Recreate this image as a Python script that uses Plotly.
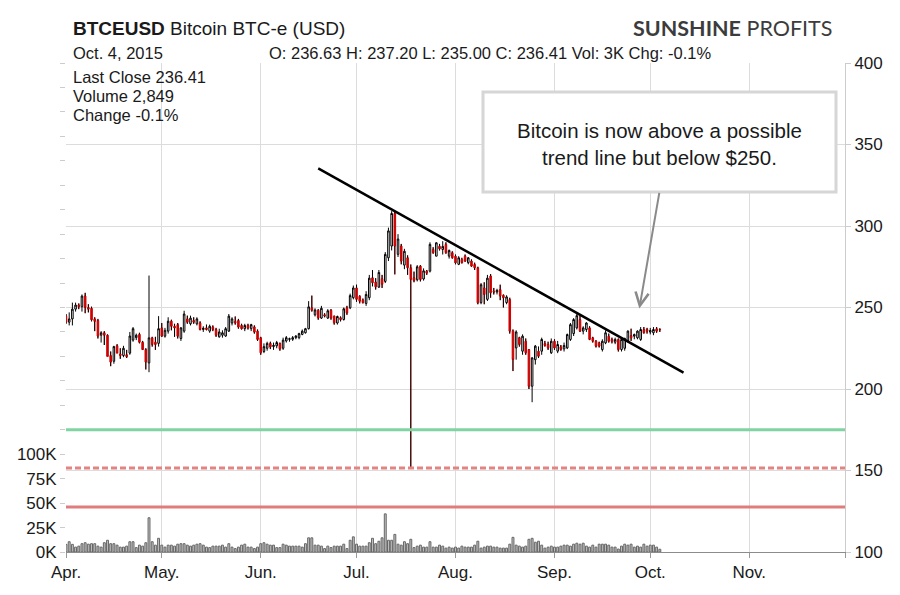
import plotly.graph_objects as go
import pandas as pd

# ---------------- data ----------------
start_date = "2015-04-01"

open_apr = [244.7,241,243,249,251.5,250.5,257,250,249.5,243,242,233,234.5,233,220.5,217,226.5,221.5,220.5,221,222,230,231.5,233.5,228.7,224.2,216,231.4,228.7,228]
high_apr = [246,247,253,253,252.5,258,259,252,250.5,244,243,235.5,235.5,233.5,223,226.5,227.5,225,226.5,224,235,238,234,234.5,229.5,225,269.6,232,232,244.7]
low_apr = [240,239,239,247.5,249,247.5,246.5,247,241.5,235.5,231,228.5,227,220,214,215.5,222,218.5,219.5,219,221,229,230,228,224,212,210.3,226,224,226]
close_apr = [241,243,249,251.5,250.5,257,250,249,242.5,241.5,232.5,234.5,233,220,216.5,226,222,220.5,225,219.8,232.5,237,233,228.7,224.2,216.5,231.4,227.3,227.3,237]

open_may = [237.5,232.4,235.5,241.6,238.5,239.5,231,235.5,243,240,242,240,240.5,236.5,237.5,235.5,238,236.5,232,233,232.5,235.5,240.5,241.5,242,239,237,239,237,238.1,235.5]
high_may = [240.5,237.5,244,242.5,240,240.5,238,248,245,245,244,244,241.5,238.5,239.5,239.5,239,237.5,237,236,238,246,244,244.5,243,240,240,240,240,239,236.5]
low_may = [232,231.5,234,236,232,231,229.5,234.5,240,239,240,239,236,235,236,234.5,235.5,232,231.5,231.5,232,235,239,239.5,237,236.5,235.5,236.5,235.5,234,229.5]
close_may = [232.4,236,241.6,238.5,237.5,232.4,237.5,246,241,243.5,241,243,236.5,237.3,236.5,238.5,236.5,233,235,234.5,237,244.7,243,240.5,238,237,239,237.5,239.5,234.9,230.4]

open_jun = [231.4,223,225,228,226,226.5,227.9,225,229.5,230.5,230.5,231.5,231.5,233.5,234.5,237,249.8,245.5,248.3,243.5,245.5,243.5,248.3,244.7,240.5,243.7,242.6,249.8,249.8,256]
high_jun = [232,228,229,229,228.5,229.5,228.5,231.5,232.5,231.5,232.5,233,234.5,236.5,237.5,253.9,257.3,249.5,249,251,246.5,249,249,245,245,244.5,250,251,258.5,263.5]
low_jun = [221,222,223.5,224.5,224,225,223.5,224,228.5,229,229.5,230.5,230.5,233,234,236.5,247.5,244.5,242.5,243,244,243,242.5,239.5,239.5,241.5,242,245.5,249,255]
close_jun = [222.2,226,228,225.8,226.8,228.5,224.6,230,231.5,230.8,231.5,232.5,234,235.5,237,250.4,248.3,248.5,243.6,249.5,244.8,248,243.6,240.6,244.5,242.6,249.2,246.7,257.3,262]

open_jul = [262,256.9,254.5,252.5,256,268.2,265.6,262.5,267.6,266,280.5,287.7,307.7,282.6,287.7,276,280.5,274.4,268.2,267,275.4,267.5,272.3,272.3,285.6,281.5,287.6,285.6,288.7,281.5,283.6]
high_jul = [264,257.5,255.5,260,270,273,268,273,270,284,299,309.1,309,295,289,286,282,276.4,272,276,276,274,273,290,287,290,289,290.7,290,285.6,284.5]
low_jul = [253.5,252.5,252.5,251,254.5,263,261,262,262,265,278.5,285,270.3,281,276.5,273.5,270,151.5,265.5,266,266,266.5,270,271.5,283,281.5,285,282.5,283,280,280]
close_jul = [255,253.9,253,258,268,265.2,262.7,271.5,264.2,282.6,297,307.7,287.7,292,278.5,284.5,274.4,267.2,266.6,275,267.2,272.5,271.1,288.7,283.6,289.7,286,287.5,283.6,285,280.5]

open_aug = [281.5,276.5,279.5,281.5,277.5,278.5,276.4,274.4,253,262,255,269.3,260,259.5,261,257.5,253,254.9,235.5,225.2,231.5,223.2,229.3,224.2,201.7,218,223.2,223.2,227.9,227.3,222.2]
high_aug = [282.5,281.5,280.5,282.5,281,279.5,277.5,275,265,265.5,270,270.5,262,261.5,264,258,257.5,256,236.5,236,232,233.5,231,224.5,219.5,227,226,231.5,229.5,229,231]
low_aug = [276.5,276,277,278,276.5,275,273,252,252,252,254,256,258,258,254.5,250,252,234,211,218,226,221,221,200,191.9,215,219,221,226,224,221.5]
close_aug = [277.4,280.5,277.5,278.5,280.5,275.4,274.4,252.9,264,258,268,259,259.5,260.5,257,256,256.5,235.5,218.1,235,227.3,232.4,222.2,201.7,219.1,226.3,220.1,230.4,226.7,225.2,229.3]

open_sep = [229.3,223.2,225.8,224.6,225.2,230.4,234,237.5,242.6,235.5,236.5,237.5,231.4,229.3,228.3,224.2,228.3,232.4,230.4,228.7,230.4,224.2,225,229.3,232.8,232.4,231.4,230.4,236.5,236.5]
high_sep = [230.5,229.5,227,228.5,234,240.5,243.5,246.5,245,238.5,241,238.5,232,230,229,230.5,236,234,231.5,231.5,231,231,231.5,236,237,234,236,238,238,237.5]
low_sep = [224,222,223.5,223,224.5,229.5,232.5,236.5,235,233.5,235,230,228.5,225.5,225.5,223,227.5,228.5,228,227.5,223,223,223.5,228.5,229.5,230.5,230.5,229.5,234,234]
close_sep = [225.2,227.3,224.2,226.7,233.4,239.5,242.6,245,235.5,237.5,240.5,230.4,229.3,226.3,226.3,229.3,234.5,229.3,229.3,230.4,224.2,230.4,231,235.5,231.4,233.4,235.5,236.5,234.5,235.5]

open_oct = [234.9,234.5,236.9,236.63]
high_oct = [237.5,238,238,237.2]
low_oct = [233.5,233,234.5,235.0]
close_oct = [235.9,236.5,235.5,236.41]

# volume in thousands
vol_apr = [7.8,10.5,7.8,5,6,8.5,9.5,8,8.5,8.5,6,5,9.5,12,8.5,8.5,7,5,5,6,10.5,10.5,4.5,7,6,9.5,35,10.5,7,14]
vol_may = [7,5,7,7,6,8,8.5,8.5,7,6,7,8,8.5,7,5,4.5,6,6,6,7,5,8.5,5,3.5,5,7,8,5,5,3.5,5]
vol_jun = [8.5,9.5,8,7,7,4.5,4.5,8,7,6,6,6,6,5,8.5,14.5,14.5,7,7,6,3.5,6,4.5,6,6,6,8,3.5,12,15.5]
vol_jul = [8,6,6,6,9.5,14,8.5,11,14.5,39,12,12,18,8,7,10.5,8.5,13,4.5,6,7,5,5,10.5,5,5,7,6,4,5,4]
vol_aug = [5,4,6,5,5,5,7,11,4,5,6,6,5,5,4,4,4,8,15,7,6,5,6,13,14,10,11,7,4,5,6]
vol_sep = [5,5,6,7,7,6,8,9,8,9,6,5,7,5,8,8,8,7,5,5,3,6,8,7,8,5,6,5,8,6]
vol_oct = [7,7,5,2.8]

trend_x = ["2015-06-19 00:00", "2015-10-11 10:00"]
trend_y = [335.3, 210.1]

level_values = [175.0, 151.5, 127.6]
level_colors = ["#80d4a2", "#e38484", "#e07c7c"]
level_dashes = ["solid", "6px,3px", "solid"]

arrow_head = ("2015-09-27 14:00", 249.4)
arrow_tail = ("2015-10-03 22:00", 321.2)

month_ticks = ["2015-04-01", "2015-05-01", "2015-06-01", "2015-07-01", "2015-08-01",
               "2015-09-01", "2015-10-01", "2015-11-01", "2015-12-01"]
month_labels = ["Apr.", "May.", "Jun.", "Jul.", "Aug.", "Sep.", "Oct.", "Nov.", ""]
price_ticks = [100, 150, 200, 250, 300, 350, 400]
vol_ticks = list(range(0, 501, 25))
vol_labels = [f"{v}K" if v <= 100 else "" for v in vol_ticks]

# ---------------- assemble ----------------
opens = open_apr + open_may + open_jun + open_jul + open_aug + open_sep + open_oct
highs = high_apr + high_may + high_jun + high_jul + high_aug + high_sep + high_oct
lows = low_apr + low_may + low_jun + low_jul + low_aug + low_sep + low_oct
closes = close_apr + close_may + close_jun + close_jul + close_aug + close_sep + close_oct
vols = vol_apr + vol_may + vol_jun + vol_jul + vol_aug + vol_sep + vol_oct
n = len(closes)
assert len(opens) == n == len(highs) == len(lows) == len(vols)
dates = pd.date_range(start_date, periods=n, freq="D")

FONT = "Liberation Sans, Arial, sans-serif"
TXT = "#1a1a1a"

fig = go.Figure()

fig.add_trace(go.Bar(
    x=dates, y=vols, yaxis="y2", width=0.6 * 86400000,
    marker=dict(color="#c4c4c4", line=dict(color="#666666", width=1)),
    hoverinfo="skip"))

fig.add_trace(go.Candlestick(
    x=dates, open=opens, high=highs, low=lows, close=closes,
    increasing=dict(line=dict(color="#000000", width=1), fillcolor="#ffffff"),
    decreasing=dict(line=dict(color="#cc0000", width=1), fillcolor="#cc0000"),
    whiskerwidth=0))

# black wicks for down candles
wx, wy = [], []
for d, o, h, l, c in zip(dates, opens, highs, lows, closes):
    if c < o:
        wx += [d, d, None, d, d, None]
        wy += [h, o, None, c, l, None]
fig.add_trace(go.Scatter(x=wx, y=wy, mode="lines", line=dict(color="#000000", width=1),
                         hoverinfo="skip"))

fig.add_trace(go.Scatter(x=trend_x, y=trend_y, mode="lines",
                         line=dict(color="#000000", width=2.5), hoverinfo="skip"))

shapes = []
for v, col, dsh in zip(level_values, level_colors, level_dashes):
    shapes.append(dict(type="line", xref="paper", x0=0, x1=1, yref="y", y0=v, y1=v,
                       line=dict(color=col, width=3, dash=dsh), layer="above"))


def px(x):
    return (x - 66) / 779


def py(y):
    return (552 - y) / 489


shapes.append(dict(type="rect", xref="paper", yref="paper",
                   x0=px(483), x1=px(836), y0=py(192), y1=py(92),
                   line=dict(color="#d6d6d6", width=3), fillcolor="#ffffff", layer="above"))

ann = []


def txt(x, y, s, size=15, anchor="left", **kw):
    ann.append(dict(x=px(x), y=py(y), xref="paper", yref="paper", text=s, showarrow=False,
                    xanchor=anchor, yanchor="middle",
                    font=dict(family=kw.get("family", FONT), size=size, color=kw.get("color", TXT))))


txt(71, 28, "<b>BTCEUSD</b> Bitcoin BTC-e (USD)", 19)
txt(71, 53, "Oct. 4, 2015", 16.5)
txt(267, 53, "O: 236.63 H: 237.20 L: 235.00 C: 236.41 Vol: 3K Chg: -0.1%", 16.5)
txt(71, 77, "Last Close 236.41", 16.5)
txt(71, 96, "Volume 2,849", 16.5)
txt(71, 115, "Change -0.1%", 16.5)
txt(834, 28, "<b>SUNSHINE</b> PROFITS", 21.5, anchor="right", family="Lato, Open Sans, sans-serif",
    color="#3c3c3c")
txt(659.5, 144, "Bitcoin is now above a possible<br>trend line but below $250.", 20.5, anchor="center")
ann[-1]["align"] = "center"

ann.append(dict(x=arrow_head[0], y=arrow_head[1], xref="x", yref="y",
                ax=arrow_tail[0], ay=arrow_tail[1], axref="x", ayref="y",
                text="", showarrow=True, arrowhead=5, arrowsize=1.3, arrowwidth=2,
                arrowcolor="#8a8a8a", standoff=0))

fig.update_layout(
    width=900, height=595,
    margin=dict(l=66, r=55, t=63, b=43),
    paper_bgcolor="white", plot_bgcolor="white",
    showlegend=False,
    font=dict(family=FONT, size=17, color=TXT),
    shapes=shapes, annotations=ann,
    xaxis=dict(type="date", range=["2015-04-01", "2015-12-01"],
               tickvals=month_ticks, ticktext=month_labels,
               showgrid=True, gridcolor="#dcdcdc", gridwidth=1,
               ticks="outside", ticklen=5, tickcolor="#999999",
               showline=True, linecolor="#8c8c8c", linewidth=1,
               zeroline=False, rangeslider=dict(visible=False),
               tickfont=dict(size=17, color=TXT)),
    yaxis=dict(side="right", range=[100, 400], tickvals=price_ticks,
               showgrid=True, gridcolor="#dcdcdc", gridwidth=1,
               ticks="outside", ticklen=5, tickcolor="#cccccc",
               showline=True, linecolor="#cccccc", zeroline=False,
               tickfont=dict(size=17, color=TXT)),
    yaxis2=dict(overlaying="y", side="left", range=[0, 500],
                tickvals=vol_ticks, ticktext=vol_labels, showgrid=False,
                ticks="outside", ticklen=5, tickcolor="#cccccc",
                showline=False, zeroline=False,
                tickfont=dict(size=17, color=TXT)),
)

fig.write_html("out.html")
